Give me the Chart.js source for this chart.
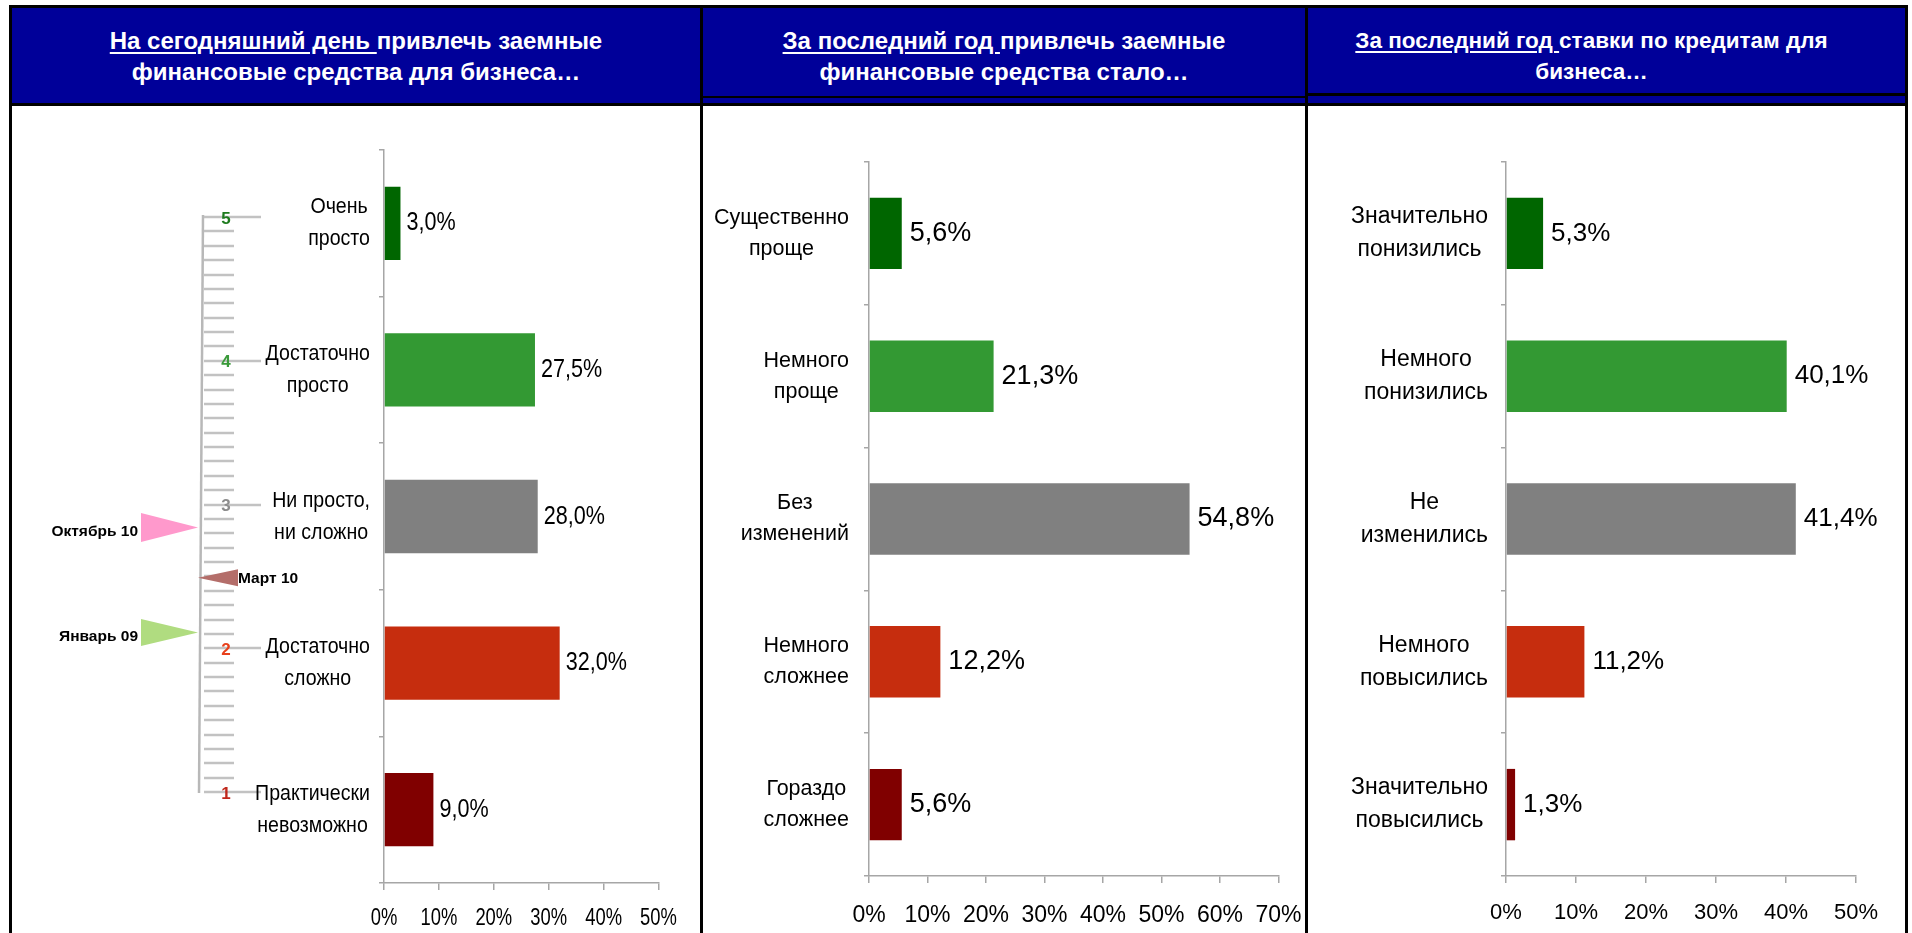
<!DOCTYPE html>
<html><head><meta charset="utf-8">
<script src="https://cdn.jsdelivr.net/npm/chart.js@4.4.1/dist/chart.umd.min.js"></script>
<style>
html,body{margin:0;padding:0;background:#fff;width:1912px;height:933px;overflow:hidden;font-family:"Liberation Sans",Arial,sans-serif;}
.blk{position:absolute;background:#000;}
.hdr{position:absolute;background:#000099;}
.title{position:absolute;color:#fff;font-weight:bold;font-size:24px;line-height:31px;text-align:center;display:flex;align-items:center;justify-content:center;}
.title u{text-decoration-thickness:2px;text-underline-offset:3px;}
canvas{position:absolute;}
</style></head><body>
<div class="hdr" style="left:12px;top:8px;width:1893px;height:95px"></div>
<div class="blk" style="left:703px;top:96px;width:602px;height:2px"></div>
<div class="blk" style="left:1308px;top:93px;width:597px;height:3px"></div>
<div class="blk" style="left:9px;top:5px;width:1899px;height:3px"></div>
<div class="blk" style="left:9px;top:103px;width:1899px;height:3px"></div>
<div class="blk" style="left:9px;top:5px;width:3px;height:928px"></div>
<div class="blk" style="left:700px;top:5px;width:3px;height:928px"></div>
<div class="blk" style="left:1305px;top:5px;width:3px;height:928px"></div>
<div class="blk" style="left:1905px;top:5px;width:3px;height:928px"></div>
<div class="title" id="t1" style="left:12px;top:8px;width:688px;height:96px"></div>
<div class="title" id="t2" style="left:703px;top:8px;width:602px;height:96px"></div>
<div class="title" id="t3" style="left:1290px;top:8px;width:603px;height:96px;font-size:22.5px"></div>
<canvas id="ruler" width="300" height="827" style="left:12px;top:106px"></canvas>
<canvas id="c1" width="689" height="827" style="left:12px;top:106px"></canvas>
<canvas id="c2" width="602" height="827" style="left:703px;top:106px"></canvas>
<canvas id="c3" width="597" height="827" style="left:1308px;top:106px"></canvas>
<script>
// ---- titles ----
const titleUnderlined = ["На сегодняшний день ", "За последний год ", "За последний год "];
const titleRest1 = ["привлечь заемные", "привлечь заемные", "ставки по кредитам для"];
const titleLine2 = ["финансовые средства для бизнеса…", "финансовые средства стало…", "бизнеса…"];

// ---- chart 1 ----
const cats1 = [["Очень","просто"],["Достаточно","просто"],["Ни просто,","ни сложно"],["Достаточно","сложно"],["Практически","невозможно"]];
const vals1 = [3.0, 27.5, 28.0, 32.0, 9.0];
const xTicks1 = [0, 10, 20, 30, 40, 50];

// ---- chart 2 ----
const cats2 = [["Существенно","проще"],["Немного","проще"],["Без","изменений"],["Немного","сложнее"],["Гораздо","сложнее"]];
const vals2 = [5.6, 21.3, 54.8, 12.2, 5.6];
const xTicks2 = [0, 10, 20, 30, 40, 50, 60, 70];

// ---- chart 3 ----
const cats3 = [["Значительно","понизились"],["Немного","понизились"],["Не","изменились"],["Немного","повысились"],["Значительно","повысились"]];
const vals3 = [5.3, 40.1, 41.4, 11.2, 1.3];
const xTicks3 = [0, 10, 20, 30, 40, 50];

const barColors = ["#006600","#339933","#808080","#C62D0E","#800000"];

// ---- index ruler (scale 1..5) ----
const rulerTicks = ["1","2","3","4","5"];
const rulerTickColors = ["#C0281C","#E8401C","#8C8C8C","#3A9A3A","#1E7B1E"];
const markerNames = ["Октябрь 10","Март 10","Январь 09"];
const markerValues = [2.84, 2.49, 2.11];
const markerColors = ["#FF99CC","#B46E6A","#B0DC80"];

const FF = '"Liberation Sans", Arial, sans-serif';

for (let i = 0; i < 3; i++) {
  document.getElementById('t' + (i + 1)).innerHTML =
    '<div><u>' + titleUnderlined[i] + '</u>' + titleRest1[i] + '<br>' + titleLine2[i] + '</div>';
}

function fmt(v){ return v.toFixed(1).replace('.', ',') + '%'; }
function drawScaled(ctx, text, x, y, align, sx){
  ctx.save(); ctx.translate(x, y); ctx.scale(sx, 1); ctx.textAlign = align; ctx.fillText(text, 0, 0); ctx.restore();
}

function labelPlugin(cfg){
  return { id: 'lbl', afterDraw(chart){
    const ctx = chart.ctx, ys = chart.scales.y, xs = chart.scales.x;
    ctx.save(); ctx.fillStyle = '#000'; ctx.textBaseline = 'middle';
    chart.data.labels.forEach((lines, i) => {
      const cy = ys.getPixelForValue(i);
      ctx.font = cfg.catFont;
      const maxW = Math.max(...lines.map(l => ctx.measureText(l).width * cfg.catScale));
      const cx = cfg.catRight - maxW / 2;
      lines.forEach((l, k) => {
        drawScaled(ctx, l, cx, cy + (k - (lines.length - 1) / 2) * cfg.catLH, 'center', cfg.catScale);
      });
    });
    ctx.font = cfg.valFont;
    chart.data.datasets[0].data.forEach((v, i) => {
      drawScaled(ctx, fmt(v), xs.getPixelForValue(v) + cfg.valGap, ys.getPixelForValue(i), 'left', cfg.valScale);
    });
    ctx.font = cfg.xFont;
    cfg.xTicks.forEach(t => {
      drawScaled(ctx, t + '%', xs.getPixelForValue(t), xs.top + cfg.xLabelOffset, 'center', cfg.xScale);
    });
    ctx.restore();
  }};
}

function makeBar(id, cats, vals, cfg){
  return new Chart(document.getElementById(id), {
    type: 'bar',
    data: { labels: cats, datasets: [{ data: vals, backgroundColor: barColors, borderWidth: 0, barPercentage: 0.5, categoryPercentage: 1.0 }] },
    options: {
      indexAxis: 'y', responsive: false, animation: false, devicePixelRatio: 1,
      layout: { padding: { left: 0, right: cfg.padRight, top: cfg.padTop, bottom: 0 } },
      plugins: { legend: { display: false }, tooltip: { enabled: false } },
      scales: {
        x: { min: 0, max: cfg.xTicks[cfg.xTicks.length - 1], ticks: { stepSize: 10, display: false },
             grid: { drawOnChartArea: false, tickLength: 7, color: '#A6A6A6', lineWidth: 1.5 },
             border: { color: '#A6A6A6', width: 1.5 },
             afterFit: s => { s.height = cfg.xH; } },
        y: { ticks: { display: false },
             grid: { drawOnChartArea: false, tickLength: 5, color: '#A6A6A6', lineWidth: 1.5, offset: true },
             border: { color: '#A6A6A6', width: 1.5 },
             afterFit: s => { s.width = cfg.yW; } }
      }
    },
    plugins: [labelPlugin(cfg)]
  });
}

makeBar('c1', cats1, vals1, {
  xTicks: xTicks1, yW: 372, padRight: 42.5, padTop: 44, xH: 50,
  catFont: '22px ' + FF, catScale: 0.89, catLH: 32, catRight: 358,
  valFont: '26px ' + FF, valScale: 0.83, valGap: 6,
  xFont: '23px ' + FF, xScale: 0.8, xLabelOffset: 36
});
makeBar('c2', cats2, vals2, {
  xTicks: xTicks2, yW: 166, padRight: 26.5, padTop: 56, xH: 57,
  catFont: '21.5px ' + FF, catScale: 1, catLH: 31, catRight: 146,
  valFont: '27px ' + FF, valScale: 1, valGap: 8,
  xFont: '23px ' + FF, xScale: 1, xLabelOffset: 40
});
makeBar('c3', cats3, vals3, {
  xTicks: xTicks3, yW: 198, padRight: 49, padTop: 56, xH: 57,
  catFont: '23px ' + FF, catScale: 1, catLH: 33, catRight: 180,
  valFont: '26px ' + FF, valScale: 1, valGap: 8,
  xFont: '22px ' + FF, xScale: 1, xLabelOffset: 37
});

// ruler styles
const RS = { lineX: 189, tickX0: 192, shortX1: 222, longX1: 249, numX: 214,
  markers: [ { side: 'left', len: 57, half: 14.5, labelDx: -63, labelDy: 4 },
             { side: 'right', len: 40, half: 8.5, labelDx: 37, labelDy: 1 },
             { side: 'left', len: 57, half: 13.5, labelDx: -63, labelDy: 4 } ] };

const rulerPlugin = { id: 'ruler', afterDraw(chart){
  const ctx = chart.ctx, ys = chart.scales.y;
  ctx.save();
  ctx.strokeStyle = '#B8B8B8'; ctx.lineWidth = 2.5;
  ctx.beginPath(); ctx.moveTo(RS.lineX + 2, ys.getPixelForValue(5) - 2); ctx.lineTo(RS.lineX - 2, ys.getPixelForValue(1) + 1); ctx.stroke();
  ctx.lineWidth = 2.5; ctx.strokeStyle = '#C2C2C2';
  for (let k = 10; k <= 50; k++) {
    const v = k / 10, py = Math.round(ys.getPixelForValue(v));
    ctx.beginPath(); ctx.moveTo(RS.tickX0, py); ctx.lineTo(k % 10 === 0 ? RS.longX1 : RS.shortX1, py); ctx.stroke();
  }
  ctx.font = 'bold 17px ' + FF; ctx.textAlign = 'center'; ctx.textBaseline = 'middle';
  rulerTicks.forEach((t, i) => { ctx.fillStyle = rulerTickColors[i]; ctx.fillText(t, RS.numX, ys.getPixelForValue(+t) + 2); });
  ctx.font = 'bold 15.5px ' + FF;
  markerValues.forEach((v, i) => {
    const m = RS.markers[i], py = ys.getPixelForValue(v), dir = m.side === 'left' ? -1 : 1;
    const tipX = RS.lineX - 3;
    ctx.fillStyle = markerColors[i];
    ctx.beginPath(); ctx.moveTo(tipX, py); ctx.lineTo(tipX + dir * m.len, py - m.half); ctx.lineTo(tipX + dir * m.len, py + m.half); ctx.closePath(); ctx.fill();
    ctx.fillStyle = '#000'; ctx.textAlign = m.side === 'left' ? 'right' : 'left';
    ctx.fillText(markerNames[i], RS.lineX + m.labelDx, py + m.labelDy);
  });
  ctx.restore();
}};

new Chart(document.getElementById('ruler'), {
  type: 'scatter',
  data: { datasets: [{ data: markerValues.map(v => ({ x: 0, y: v })), pointRadius: 0 }] },
  options: { responsive: false, animation: false, devicePixelRatio: 1,
    layout: { padding: { top: 111, bottom: 141, left: 0, right: 0 } },
    plugins: { legend: { display: false }, tooltip: { enabled: false } },
    scales: { x: { display: false, min: 0, max: 1 }, y: { display: false, min: 1, max: 5 } } },
  plugins: [rulerPlugin]
});
</script>
</body></html>
